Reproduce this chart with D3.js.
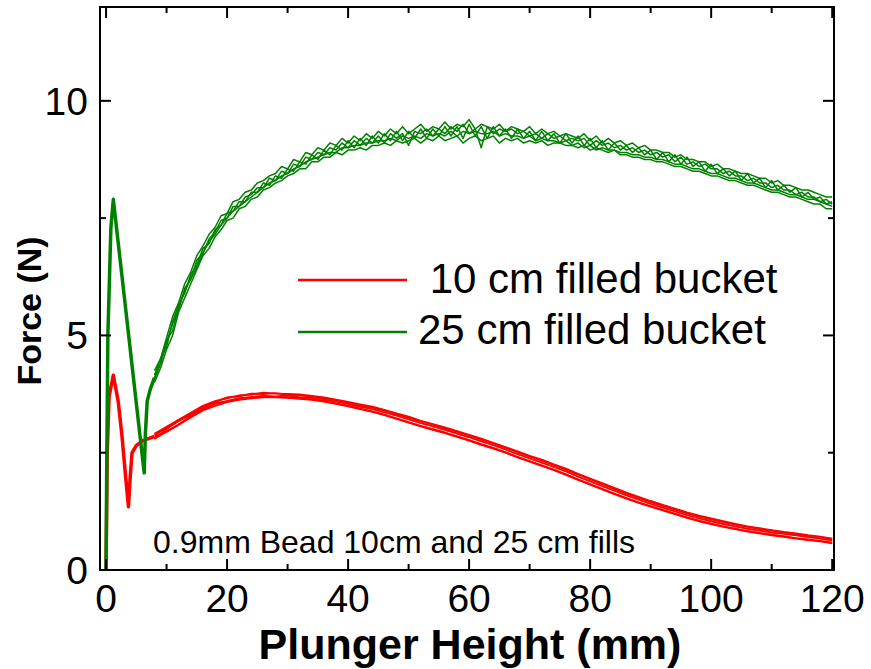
<!DOCTYPE html>
<html>
<head>
<meta charset="utf-8">
<script src="https://cdn.jsdelivr.net/npm/d3@7"></script>
<style>
  body { margin: 0; background: #fff; }
  svg { display: block; font-family: "Liberation Sans", Arial, sans-serif; }
</style>
</head>
<body>
<svg id="chart" width="871" height="669"></svg>
<script>
// Plunger height sample positions (mm) for the 10 cm fill runs
const redHeights = [8, 10, 12, 14, 16, 18, 20, 22, 24, 26,
                    28, 30, 32, 34, 36, 38, 40, 42, 44, 46,
                    48, 50, 52, 54, 56, 58, 60, 62, 64, 66,
                    68, 70, 72, 74, 76, 78, 80, 82, 84, 86,
                    88, 90, 92, 94, 96, 98, 100, 102, 104, 106,
                    108, 110, 112, 114, 116, 118, 120];

// Plunger height sample positions (mm) for the 25 cm fill runs
const greenHeights = [8, 9, 10, 11, 12, 13, 14, 15, 16, 17,
                      18, 19, 20, 21, 22, 23, 24, 25, 26, 27,
                      28, 29, 30, 31, 32, 33, 34, 35, 36, 37,
                      38, 39, 40, 41, 42, 43, 44, 45, 46, 47,
                      48, 49, 50, 51, 52, 53, 54, 55, 56, 57,
                      58, 59, 60, 61, 62, 63, 64, 65, 66, 67,
                      68, 69, 70, 71, 72, 73, 74, 75, 76, 77,
                      78, 79, 80, 81, 82, 83, 84, 85, 86, 87,
                      88, 89, 90, 91, 92, 93, 94, 95, 96, 97,
                      98, 99, 100, 101, 102, 103, 104, 105, 106, 107,
                      108, 109, 110, 111, 112, 113, 114, 115, 116, 117,
                      118, 119, 120];

// Initial loading spike (common to all runs)
const greenSpikeX = [0, 0.1, 0.3, 0.8, 1.2, 6.3, 6.5, 6.8, 7.3, 8];
const greenSpikeY = [0, 2.0, 5.0, 7.3, 7.9, 2.07, 2.9, 3.6, 3.85, 4.1];
const redSpikeX = [0, 0.2, 0.5, 1.2, 2.0, 2.6, 3.3, 3.7, 4.0, 4.3, 5.0, 6.0, 7.0, 8];
const redSpikeY = [0, 2.5, 3.7, 4.15, 3.6, 2.9, 1.9, 1.35, 2.0, 2.5, 2.65, 2.75, 2.8, 2.85];

// 25 cm fill: force (N) for five repeated runs
const greenRuns = [
  [4.25, 4.5, 4.95, 5.4, 5.7, 6.1, 6.35, 6.7, 6.9, 7.15,
   7.3, 7.55, 7.6, 7.85, 7.9, 8.05, 8.1, 8.25, 8.3, 8.4,
   8.45, 8.6, 8.55, 8.75, 8.7, 8.9, 8.85, 9.0, 8.95, 9.1,
   9.05, 9.2, 9.1, 9.25, 9.15, 9.3, 9.2, 9.35, 9.25, 9.4,
   9.3, 9.45, 9.3, 9.4, 9.5, 9.35, 9.45, 9.4, 9.55, 9.4,
   9.5, 9.45, 9.6, 9.4, 9.5, 9.45, 9.4, 9.5, 9.35, 9.45,
   9.4, 9.35, 9.45, 9.3, 9.4, 9.3, 9.35, 9.25, 9.3, 9.25,
   9.2, 9.3, 9.15, 9.25, 9.1, 9.2, 9.1, 9.15, 9.05, 9.1,
   9.0, 9.05, 8.95, 8.95, 8.9, 8.9, 8.8, 8.85, 8.75, 8.75,
   8.7, 8.7, 8.6, 8.65, 8.55, 8.55, 8.5, 8.45, 8.45, 8.4,
   8.35, 8.35, 8.25, 8.3, 8.2, 8.2, 8.15, 8.1, 8.1, 8.05,
   8.0, 7.95, 7.95],
  [4.0, 4.3, 4.7, 5.0, 5.5, 5.8, 6.1, 6.4, 6.7, 6.85,
   7.1, 7.25, 7.45, 7.5, 7.7, 7.75, 7.9, 7.95, 8.1, 8.15,
   8.25, 8.3, 8.4, 8.45, 8.55, 8.55, 8.7, 8.7, 8.8, 8.8,
   8.9, 8.85, 8.95, 8.95, 9.0, 8.95, 9.05, 9.05, 9.1, 9.05,
   9.15, 9.1, 9.15, 9.2, 9.1, 9.2, 9.15, 9.25, 9.15, 9.2,
   9.25, 9.1, 9.2, 9.25, 9.15, 9.2, 9.25, 9.1, 9.2, 9.15,
   9.2, 9.1, 9.15, 9.1, 9.15, 9.05, 9.1, 9.1, 9.05, 9.05,
   9.0, 9.05, 8.95, 9.0, 8.95, 8.9, 8.95, 8.85, 8.85, 8.8,
   8.8, 8.75, 8.75, 8.7, 8.7, 8.65, 8.6, 8.6, 8.55, 8.5,
   8.5, 8.45, 8.4, 8.4, 8.35, 8.3, 8.3, 8.25, 8.2, 8.2,
   8.15, 8.1, 8.05, 8.05, 8.0, 7.95, 7.95, 7.9, 7.85, 7.8,
   7.8, 7.7, 7.7],
  [4.15, 4.5, 4.75, 5.3, 5.65, 5.9, 6.3, 6.5, 6.85, 6.95,
   7.25, 7.35, 7.6, 7.65, 7.85, 7.85, 8.05, 8.05, 8.25, 8.2,
   8.4, 8.35, 8.55, 8.5, 8.7, 8.65, 8.85, 8.75, 8.95, 8.85,
   9.05, 8.95, 9.15, 9.0, 9.2, 9.05, 9.25, 9.1, 9.3, 9.15,
   9.35, 9.15, 9.35, 9.2, 9.4, 9.2, 9.4, 9.25, 9.45, 9.25,
   9.45, 9.2, 9.5, 9.25, 9.45, 9.2, 9.45, 9.25, 9.4, 9.2,
   9.4, 9.2, 9.35, 9.15, 9.35, 9.15, 9.3, 9.1, 9.3, 9.1,
   9.25, 9.05, 9.2, 9.0, 9.15, 8.95, 9.1, 8.95, 9.05, 8.9,
   9.0, 8.85, 8.95, 8.75, 8.9, 8.7, 8.85, 8.65, 8.8, 8.6,
   8.7, 8.5, 8.65, 8.45, 8.55, 8.4, 8.5, 8.3, 8.45, 8.25,
   8.35, 8.15, 8.3, 8.1, 8.2, 8.05, 8.15, 7.95, 8.05, 7.9,
   7.95, 7.8, 7.85],
  [4.1, 4.4, 4.85, 5.25, 5.55, 6.0, 6.2, 6.6, 6.75, 7.05,
   7.2, 7.45, 7.5, 7.75, 7.75, 7.95, 8.0, 8.15, 8.15, 8.35,
   8.3, 8.5, 8.45, 8.65, 8.6, 8.8, 8.75, 8.9, 8.85, 9.0,
   8.95, 9.1, 9.0, 9.15, 9.05, 9.2, 9.1, 9.25, 9.1, 9.3,
   9.2, 9.3, 9.05, 9.35, 9.3, 9.4, 9.25, 9.4, 9.3, 9.45,
   9.35, 9.5, 9.3, 9.4, 9.0, 9.45, 9.3, 9.4, 9.35, 9.4,
   9.3, 9.35, 9.25, 9.3, 9.2, 9.3, 9.2, 9.25, 9.15, 9.2,
   9.15, 9.2, 9.05, 9.15, 9.05, 9.1, 9.0, 9.05, 8.95, 9.0,
   8.9, 8.95, 8.85, 8.9, 8.8, 8.85, 8.7, 8.8, 8.65, 8.7,
   8.6, 8.65, 8.55, 8.55, 8.45, 8.5, 8.4, 8.4, 8.3, 8.35,
   8.25, 8.25, 8.15, 8.2, 8.1, 8.1, 8.0, 8.05, 7.95, 7.95,
   7.85, 7.9, 7.8],
  [4.05, 4.4, 4.9, 5.1, 5.6, 5.95, 6.2, 6.45, 6.75, 7.0,
   7.15, 7.35, 7.5, 7.65, 7.75, 7.85, 7.95, 8.05, 8.15, 8.25,
   8.3, 8.4, 8.45, 8.55, 8.6, 8.7, 8.75, 8.8, 8.85, 8.9,
   8.9, 9.0, 9.0, 9.05, 9.05, 9.1, 9.1, 9.15, 9.15, 9.2,
   9.15, 9.25, 9.2, 9.25, 9.2, 9.3, 9.25, 9.3, 9.25, 9.35,
   9.25, 9.35, 9.3, 9.35, 9.3, 9.3, 9.35, 9.25, 9.3, 9.25,
   9.25, 9.2, 9.25, 9.15, 9.2, 9.15, 9.15, 9.1, 9.15, 9.05,
   9.1, 9.0, 9.05, 8.95, 9.0, 8.95, 8.95, 8.9, 8.9, 8.85,
   8.85, 8.8, 8.8, 8.75, 8.75, 8.7, 8.65, 8.65, 8.6, 8.55,
   8.55, 8.5, 8.45, 8.45, 8.4, 8.35, 8.35, 8.3, 8.25, 8.25,
   8.2, 8.15, 8.1, 8.1, 8.05, 8.0, 8.0, 7.95, 7.9, 7.9,
   7.85, 7.8, 7.75]
];

// 10 cm fill: force (N) for five repeated runs
const redRuns = [
  [2.9, 3.05, 3.2, 3.35, 3.5, 3.6, 3.66, 3.72, 3.74, 3.78,
   3.76, 3.75, 3.74, 3.71, 3.68, 3.63, 3.58, 3.53, 3.48, 3.41,
   3.34, 3.27, 3.18, 3.11, 3.04, 2.96, 2.88, 2.8, 2.71, 2.62,
   2.53, 2.43, 2.35, 2.25, 2.16, 2.05, 1.95, 1.85, 1.75, 1.65,
   1.56, 1.47, 1.39, 1.31, 1.23, 1.16, 1.1, 1.04, 0.98, 0.93,
   0.89, 0.85, 0.81, 0.78, 0.74, 0.71, 0.67],
  [2.8, 3.0, 3.2, 3.3, 3.48, 3.58, 3.68, 3.7, 3.76, 3.75,
   3.77, 3.74, 3.72, 3.7, 3.66, 3.62, 3.57, 3.51, 3.46, 3.4,
   3.32, 3.25, 3.17, 3.1, 3.02, 2.95, 2.87, 2.78, 2.7, 2.61,
   2.51, 2.42, 2.33, 2.24, 2.14, 2.04, 1.93, 1.83, 1.73, 1.63,
   1.54, 1.45, 1.37, 1.29, 1.21, 1.14, 1.08, 1.02, 0.97, 0.92,
   0.87, 0.84, 0.8, 0.77, 0.73, 0.7, 0.66],
  [2.85, 2.95, 3.1, 3.28, 3.42, 3.55, 3.6, 3.66, 3.68, 3.71,
   3.7, 3.72, 3.68, 3.67, 3.63, 3.59, 3.54, 3.48, 3.43, 3.36,
   3.29, 3.21, 3.13, 3.06, 2.99, 2.91, 2.83, 2.74, 2.66, 2.57,
   2.47, 2.38, 2.29, 2.2, 2.1, 1.99, 1.89, 1.79, 1.69, 1.59,
   1.5, 1.41, 1.33, 1.25, 1.17, 1.1, 1.04, 0.98, 0.93, 0.88,
   0.84, 0.8, 0.77, 0.74, 0.7, 0.67, 0.63],
  [2.8, 2.95, 3.1, 3.25, 3.4, 3.5, 3.58, 3.63, 3.66, 3.68,
   3.68, 3.67, 3.65, 3.63, 3.59, 3.54, 3.49, 3.43, 3.37, 3.3,
   3.22, 3.14, 3.06, 2.99, 2.92, 2.84, 2.76, 2.67, 2.59, 2.5,
   2.4, 2.31, 2.22, 2.13, 2.03, 1.92, 1.82, 1.72, 1.62, 1.52,
   1.43, 1.35, 1.27, 1.19, 1.11, 1.04, 0.98, 0.92, 0.87, 0.82,
   0.78, 0.74, 0.71, 0.67, 0.64, 0.61, 0.57],
  [2.88, 3.02, 3.17, 3.32, 3.45, 3.54, 3.6, 3.65, 3.69, 3.7,
   3.69, 3.68, 3.66, 3.64, 3.6, 3.55, 3.5, 3.44, 3.38, 3.31,
   3.23, 3.15, 3.07, 3.0, 2.93, 2.85, 2.77, 2.68, 2.6, 2.51,
   2.41, 2.32, 2.23, 2.14, 2.04, 1.93, 1.83, 1.73, 1.63, 1.53,
   1.44, 1.36, 1.28, 1.2, 1.12, 1.05, 0.99, 0.93, 0.88, 0.83,
   0.79, 0.75, 0.72, 0.68, 0.65, 0.62, 0.58]
];

const xMajorTicks = [0, 20, 40, 60, 80, 100, 120];
const xMinorTicks = [10, 30, 50, 70, 90, 110];
const yMajorTicks = [0, 5, 10];
const yMinorTicks = [2.5, 7.5];
const seriesLabels = [" 10 cm filled bucket", "25 cm filled bucket"];
const seriesColors = ["#ff0000", "#008000"];
const noteText = "0.9mm Bead 10cm and 25 cm fills";
const xTitle = "Plunger Height (mm)";
const yTitle = "Force (N)";

const svg = d3.select("#chart");
const L = 100, R = 834, T = 7, B = 570;

const x = d3.scaleLinear().domain([-1, 120.3]).range([L, R]);
const y = d3.scaleLinear().domain([0, 12]).range([B, T]);

svg.append("defs").append("clipPath").attr("id", "plotClip")
  .append("rect").attr("x", L).attr("y", T).attr("width", R - L).attr("height", B - T);

const plot = svg.append("g").attr("clip-path", "url(#plotClip)");
const line = d3.line().x(d => x(d[0])).y(d => y(d[1]));

function drawSeries(xs, runs, spikeX, spikeY, color, runWidth) {
  runs.forEach(vals => {
    plot.append("path")
      .attr("d", line(xs.map((h, i) => [h, vals[i]])))
      .attr("fill", "none").attr("stroke", color)
      .attr("stroke-width", runWidth).attr("stroke-linejoin", "round");
  });
  plot.append("path")
    .attr("d", line(spikeX.map((h, i) => [h, spikeY[i]])))
    .attr("fill", "none").attr("stroke", color)
    .attr("stroke-width", 3.5).attr("stroke-linejoin", "round");
}
drawSeries(redHeights, redRuns, redSpikeX, redSpikeY, seriesColors[0], 1.9);
drawSeries(greenHeights, greenRuns, greenSpikeX, greenSpikeY, seriesColors[1], 1.5);

// Frame and inward ticks on all four sides
const axes = svg.append("g").attr("stroke", "#000").attr("stroke-width", 2);
axes.append("rect").attr("x", L).attr("y", T).attr("width", R - L).attr("height", B - T)
  .attr("fill", "none");
function xTick(v, len) {
  axes.append("line").attr("x1", x(v)).attr("x2", x(v)).attr("y1", B).attr("y2", B - len);
  axes.append("line").attr("x1", x(v)).attr("x2", x(v)).attr("y1", T).attr("y2", T + len);
}
function yTick(v, len) {
  axes.append("line").attr("y1", y(v)).attr("y2", y(v)).attr("x1", L).attr("x2", L + len);
  axes.append("line").attr("y1", y(v)).attr("y2", y(v)).attr("x1", R).attr("x2", R - len);
}
xMajorTicks.forEach(v => xTick(v, 11));
xMinorTicks.forEach(v => xTick(v, 6));
yMajorTicks.forEach(v => yTick(v, 11));
yMinorTicks.forEach(v => yTick(v, 6));

// Tick labels
svg.selectAll(".xl").data(xMajorTicks).enter().append("text")
  .attr("x", d => x(d)).attr("y", 612).attr("text-anchor", "middle")
  .attr("font-size", 39).text(d => d);
svg.selectAll(".yl").data(yMajorTicks).enter().append("text")
  .attr("x", 88).attr("y", d => y(d) + 14).attr("text-anchor", "end")
  .attr("font-size", 39).text(d => d);

// Axis titles
svg.append("text").attr("x", 470).attr("y", 659).attr("text-anchor", "middle")
  .attr("font-size", 43).attr("font-weight", "bold").text(xTitle);
svg.append("text").attr("transform", "translate(41,311) rotate(-90)")
  .attr("text-anchor", "middle").attr("font-size", 34).attr("font-weight", "bold").text(yTitle);

// Legend
const legendY = [280, 332];
const legendTextY = [293, 344];
seriesLabels.forEach((lab, i) => {
  svg.append("line").attr("x1", 298).attr("x2", 407)
    .attr("y1", legendY[i]).attr("y2", legendY[i])
    .attr("stroke", seriesColors[i]).attr("stroke-width", 2.7);
  svg.append("text").attr("x", 418).attr("y", legendTextY[i])
    .attr("font-size", 42).style("white-space", "pre").text(lab);
});

// Annotation
svg.append("text").attr("x", 153).attr("y", 553).attr("font-size", 32).text(noteText);
</script>
</body>
</html>
